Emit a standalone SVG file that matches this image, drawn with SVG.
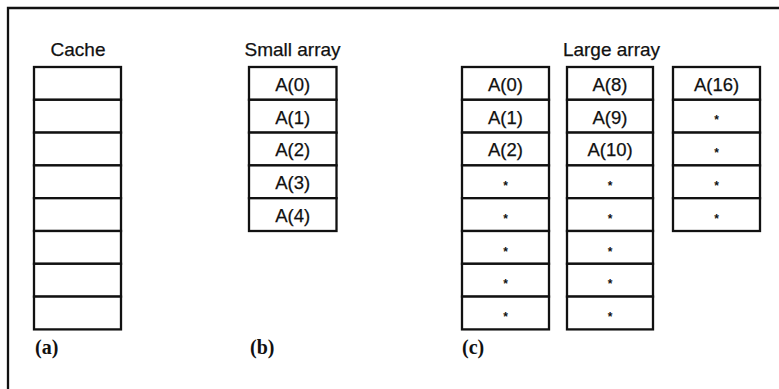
<svg xmlns="http://www.w3.org/2000/svg" width="779" height="389" viewBox="0 0 779 389">
  <style>
    .cell { fill: #fff; stroke: #111; stroke-width: 2.3; }
    .frame { fill: none; stroke: #111; stroke-width: 2.3; }
    .title { font-family: "Liberation Sans", Arial, sans-serif; font-size: 19px; fill: #111; stroke: #111; stroke-width: 0.25; text-anchor: middle; }
    .item { font-family: "Liberation Sans", Arial, sans-serif; font-size: 18.5px; fill: #111; stroke: #111; stroke-width: 0.25; text-anchor: middle; }
    .star { font-family: "Liberation Sans", Arial, sans-serif; font-size: 12px; font-weight: bold; fill: #111; text-anchor: middle; }
    .tag { font-family: "Liberation Serif", "Times New Roman", serif; font-size: 20px; font-weight: bold; fill: #111; }
  </style>

  <rect width="779" height="389" fill="#fff"/>

  <!-- open frame: top and left edges -->
  <path class="frame" d="M8,389 V8 H779"/>

  <!-- (a) cache: 8 empty lines -->
  <g id="cache">
    <text class="title" x="78" y="55.5">Cache</text>
    <rect class="cell" x="34" y="67" width="87" height="32.8"/>
    <rect class="cell" x="34" y="99.8" width="87" height="32.8"/>
    <rect class="cell" x="34" y="132.6" width="87" height="32.8"/>
    <rect class="cell" x="34" y="165.4" width="87" height="32.8"/>
    <rect class="cell" x="34" y="198.2" width="87" height="32.8"/>
    <rect class="cell" x="34" y="231" width="87" height="32.8"/>
    <rect class="cell" x="34" y="263.8" width="87" height="32.8"/>
    <rect class="cell" x="34" y="296.6" width="87" height="32.8"/>
    <text class="tag" x="35" y="354">(a)</text>
  </g>

  <!-- (b) small array: fits in the cache -->
  <g id="small-array">
    <text class="title" x="292.5" y="56">Small array</text>
    <rect class="cell" x="249" y="67" width="87.5" height="32.8"/>
    <rect class="cell" x="249" y="99.8" width="87.5" height="32.8"/>
    <rect class="cell" x="249" y="132.6" width="87.5" height="32.8"/>
    <rect class="cell" x="249" y="165.4" width="87.5" height="32.8"/>
    <rect class="cell" x="249" y="198.2" width="87.5" height="32.8"/>
    <text class="item" x="292.7" y="90.8">A(0)</text>
    <text class="item" x="292.7" y="123.6">A(1)</text>
    <text class="item" x="292.7" y="156.4">A(2)</text>
    <text class="item" x="292.7" y="189.2">A(3)</text>
    <text class="item" x="292.7" y="222">A(4)</text>
    <text class="tag" x="250" y="354">(b)</text>
  </g>

  <!-- (c) large array: wraps over three cache-sized blocks -->
  <g id="large-array">
    <text class="title" x="611.5" y="55.5">Large array</text>
    <text class="tag" x="462" y="354">(c)</text>
  </g>

  <g id="large-block-1">
    <rect class="cell" x="462" y="67" width="87" height="32.8"/>
    <rect class="cell" x="462" y="99.8" width="87" height="32.8"/>
    <rect class="cell" x="462" y="132.6" width="87" height="32.8"/>
    <rect class="cell" x="462" y="165.4" width="87" height="32.8"/>
    <rect class="cell" x="462" y="198.2" width="87" height="32.8"/>
    <rect class="cell" x="462" y="231" width="87" height="32.8"/>
    <rect class="cell" x="462" y="263.8" width="87" height="32.8"/>
    <rect class="cell" x="462" y="296.6" width="87" height="32.8"/>
    <text class="item" x="505.5" y="90.8">A(0)</text>
    <text class="item" x="505.5" y="123.6">A(1)</text>
    <text class="item" x="505.5" y="156.4">A(2)</text>
    <text class="star" x="505.5" y="190">*</text>
    <text class="star" x="505.5" y="222.8">*</text>
    <text class="star" x="505.5" y="255.6">*</text>
    <text class="star" x="505.5" y="288.4">*</text>
    <text class="star" x="505.5" y="321.2">*</text>
  </g>

  <g id="large-block-2">
    <rect class="cell" x="567" y="67" width="86" height="32.8"/>
    <rect class="cell" x="567" y="99.8" width="86" height="32.8"/>
    <rect class="cell" x="567" y="132.6" width="86" height="32.8"/>
    <rect class="cell" x="567" y="165.4" width="86" height="32.8"/>
    <rect class="cell" x="567" y="198.2" width="86" height="32.8"/>
    <rect class="cell" x="567" y="231" width="86" height="32.8"/>
    <rect class="cell" x="567" y="263.8" width="86" height="32.8"/>
    <rect class="cell" x="567" y="296.6" width="86" height="32.8"/>
    <text class="item" x="610" y="90.8">A(8)</text>
    <text class="item" x="610" y="123.6">A(9)</text>
    <text class="item" x="610" y="156.4">A(10)</text>
    <text class="star" x="610" y="190">*</text>
    <text class="star" x="610" y="222.8">*</text>
    <text class="star" x="610" y="255.6">*</text>
    <text class="star" x="610" y="288.4">*</text>
    <text class="star" x="610" y="321.2">*</text>
  </g>

  <g id="large-block-3">
    <rect class="cell" x="673" y="67" width="87" height="32.8"/>
    <rect class="cell" x="673" y="99.8" width="87" height="32.8"/>
    <rect class="cell" x="673" y="132.6" width="87" height="32.8"/>
    <rect class="cell" x="673" y="165.4" width="87" height="32.8"/>
    <rect class="cell" x="673" y="198.2" width="87" height="32.8"/>
    <text class="item" x="716.5" y="90.8">A(16)</text>
    <text class="star" x="716.5" y="124.4">*</text>
    <text class="star" x="716.5" y="157.2">*</text>
    <text class="star" x="716.5" y="190">*</text>
    <text class="star" x="716.5" y="222.8">*</text>
  </g>
</svg>
